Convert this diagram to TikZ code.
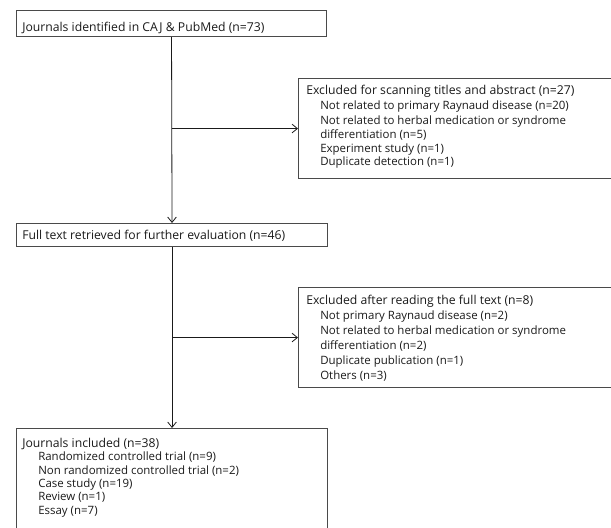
\documentclass[tikz,border=0pt]{standalone}
\usepackage{fontspec}
\setmainfont{Open Sans}
\usetikzlibrary{arrows.meta}
\definecolor{framegray}{HTML}{4A4A4A}
\definecolor{inkgray}{HTML}{1A1A1A}
\begin{document}
\begin{tikzpicture}[x=0.75pt,y=-0.75pt,
  frame/.style={draw=framegray, line width=0.8pt, inner sep=0pt, anchor=north west, fill=none},
  head/.style={inner sep=0pt, anchor=base west, text=inkgray, font=\fontsize{9.15}{11}\selectfont},
  item/.style={inner sep=0pt, anchor=base west, text=inkgray, font=\fontsize{8.6}{10}\selectfont},
  arr/.style={draw=inkgray, line width=0.6pt, -{Straight Barb[length=4pt,width=6.5pt]}}]
\useasboundingbox (0,0) rectangle (611,528);
% boxes
\node[frame, minimum width=232.5pt, minimum height=19.5pt] (b1) at (16,10) {};
\node[frame, minimum width=247.5pt, minimum height=75pt] (b2) at (298,78) {};
\node[frame, minimum width=233.25pt, minimum height=17.25pt] (b3) at (16,223) {};
\node[frame, minimum width=247.5pt, minimum height=75pt] (b4) at (298,287) {};
\node[frame, minimum width=233.25pt, minimum height=90pt] (b5) at (16,428) {};
% texts
\node[head] (t1) at (22,32) {Journals identified in CAJ \& PubMed (n=73)};
\node[head] (t2) at (306,95) {Excluded for scanning titles and abstract (n=27)};
\node[item] (t2a) at (320,110) {Not related to primary Raynaud disease (n=20)};
\node[item] (t2b) at (320,124) {Not related to herbal medication or syndrome};
\node[item] (t2c) at (320,138) {differentiation (n=5)};
\node[item] (t2d) at (320,152) {Experiment study (n=1)};
\node[item] (t2e) at (320,166) {Duplicate detection (n=1)};
\node[head] (t3) at (22,239) {Full text retrieved for further evaluation (n=46)};
\node[head] (t4) at (306,304) {Excluded after reading the full text (n=8)};
\node[item] (t4a) at (320,319) {Not primary Raynaud disease (n=2)};
\node[item] (t4b) at (320,334) {Not related to herbal medication or syndrome};
\node[item] (t4c) at (320,349) {differentiation (n=2)};
\node[item] (t4d) at (320,364) {Duplicate publication (n=1)};
\node[item] (t4e) at (320,379) {Others (n=3)};
\node[head] (t5) at (22,447) {Journals included (n=38)};
\node[item] (t5a) at (38,460) {Randomized controlled trial (n=9)};
\node[item] (t5b) at (38,474) {Non randomized controlled trial (n=2)};
\node[item] (t5c) at (38,487) {Case study (n=19)};
\node[item] (t5d) at (38,500) {Review (n=1)};
\node[item] (t5e) at (38,514) {Essay (n=7)};
% connectors
\coordinate (j1) at (b1.south |- b2.west);
\coordinate (j2) at (b3.south |- b4.west);
\draw[arr] (b1.south) -- (b3.north);
\draw[arr] (j1) -- (b2.west);
\draw[arr] (b3.south) -- (b5.north);
\draw[arr] (j2) -- (b4.west);
\end{tikzpicture}
\end{document}
